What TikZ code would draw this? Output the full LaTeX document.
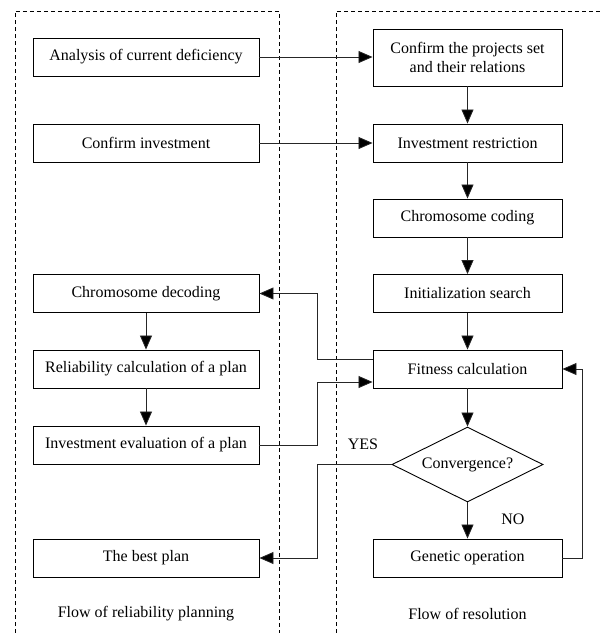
\documentclass[tikz,border=0pt]{standalone}
\usepackage{fontspec}
\setmainfont{Liberation Serif}
\usetikzlibrary{arrows.meta,shapes.geometric}
\begin{document}
\begin{tikzpicture}[x=1pt,y=1pt,
  font=\fontsize{16}{19}\selectfont,
  lbox/.style={draw,line width=0.9pt,minimum width=226pt,minimum height=38pt,inner sep=0pt,align=center},
  rbox/.style={draw,line width=0.9pt,minimum width=189pt,minimum height=38pt,inner sep=0pt,align=center},
  region/.style={dash pattern=on 4pt off 3pt,line width=0.8pt},
  arr/.style={line width=0.8pt,draw=black!85,-{Triangle[length=14pt,width=12pt,fill=black]}},
  ln/.style={line width=0.8pt,draw=black!85}]
\useasboundingbox (0,0) rectangle (600,-633);
% regions
\draw[region] (15,-633) -- (15,-11) -- (279,-11) -- (279,-633);
\draw[region] (336,-633) -- (336,-11) -- (600,-11);
% left column
\node[lbox] (an) at (146,-57) {Analysis of current deficiency};
\node[lbox] (ci) at (146,-143) {Confirm investment};
\node[lbox] (dec) at (146,-293.5) {Chromosome decoding};
\node[lbox] (rel) at (146,-369) {Reliability calculation of a plan};
\node[lbox] (ev) at (146,-445) {Investment evaluation of a plan};
\node[lbox] (best) at (146,-558) {The best plan};
\node (fl) at (146,-614) {Flow of reliability planning};
% right column
\node[rbox,minimum height=57pt] (cp) at (467.5,-57.5) {Confirm the projects set\\and their relations};
\node[rbox] (ir) at (467.5,-143) {Investment restriction};
\node[rbox] (cc) at (467.5,-218) {Chromosome coding};
\node[rbox] (is) at (467.5,-293.5) {Initialization search};
\node[rbox] (fit) at (467.5,-369) {Fitness calculation};
\node[draw,line width=0.9pt,diamond,aspect=2,minimum width=151pt,minimum height=75pt,inner sep=0pt] (conv) at (467.5,-464.5) {Convergence?};
\node[rbox] (gen) at (467.5,-558) {Genetic operation};
\node (fr) at (467.5,-614) {Flow of resolution};
\node (yes) at (363,-444) {YES};
\node (no) at (513,-519) {NO};
\coordinate (bx) at (317,0);
\coordinate (rx) at (582,0);
% connectors
\draw[arr] (an.east) -- (an.east -| cp.west);
\draw[arr] (ci.east) -- (ci.east -| ir.west);
\draw[arr] (cp) -- (ir);
\draw[arr] (ir) -- (cc);
\draw[arr] (cc) -- (is);
\draw[arr] (is) -- (fit);
\draw[arr] (fit) -- (conv);
\draw[arr] (conv) -- (gen);
\draw[arr] (dec) -- (rel);
\draw[arr] (rel) -- (ev);
\draw[arr] ([yshift=10pt]fit.west) -- ([yshift=10pt]fit.west -| bx) |- (dec.east);
\draw[arr] (ev.east) -- (ev.east -| bx) |- ([yshift=-13pt]fit.west);
\draw[arr] (conv.west) -- (conv.west -| bx) |- (best.east);
\draw[arr] (gen.east) -- (gen.east -| rx) |- (fit.east);
\end{tikzpicture}
\end{document}
